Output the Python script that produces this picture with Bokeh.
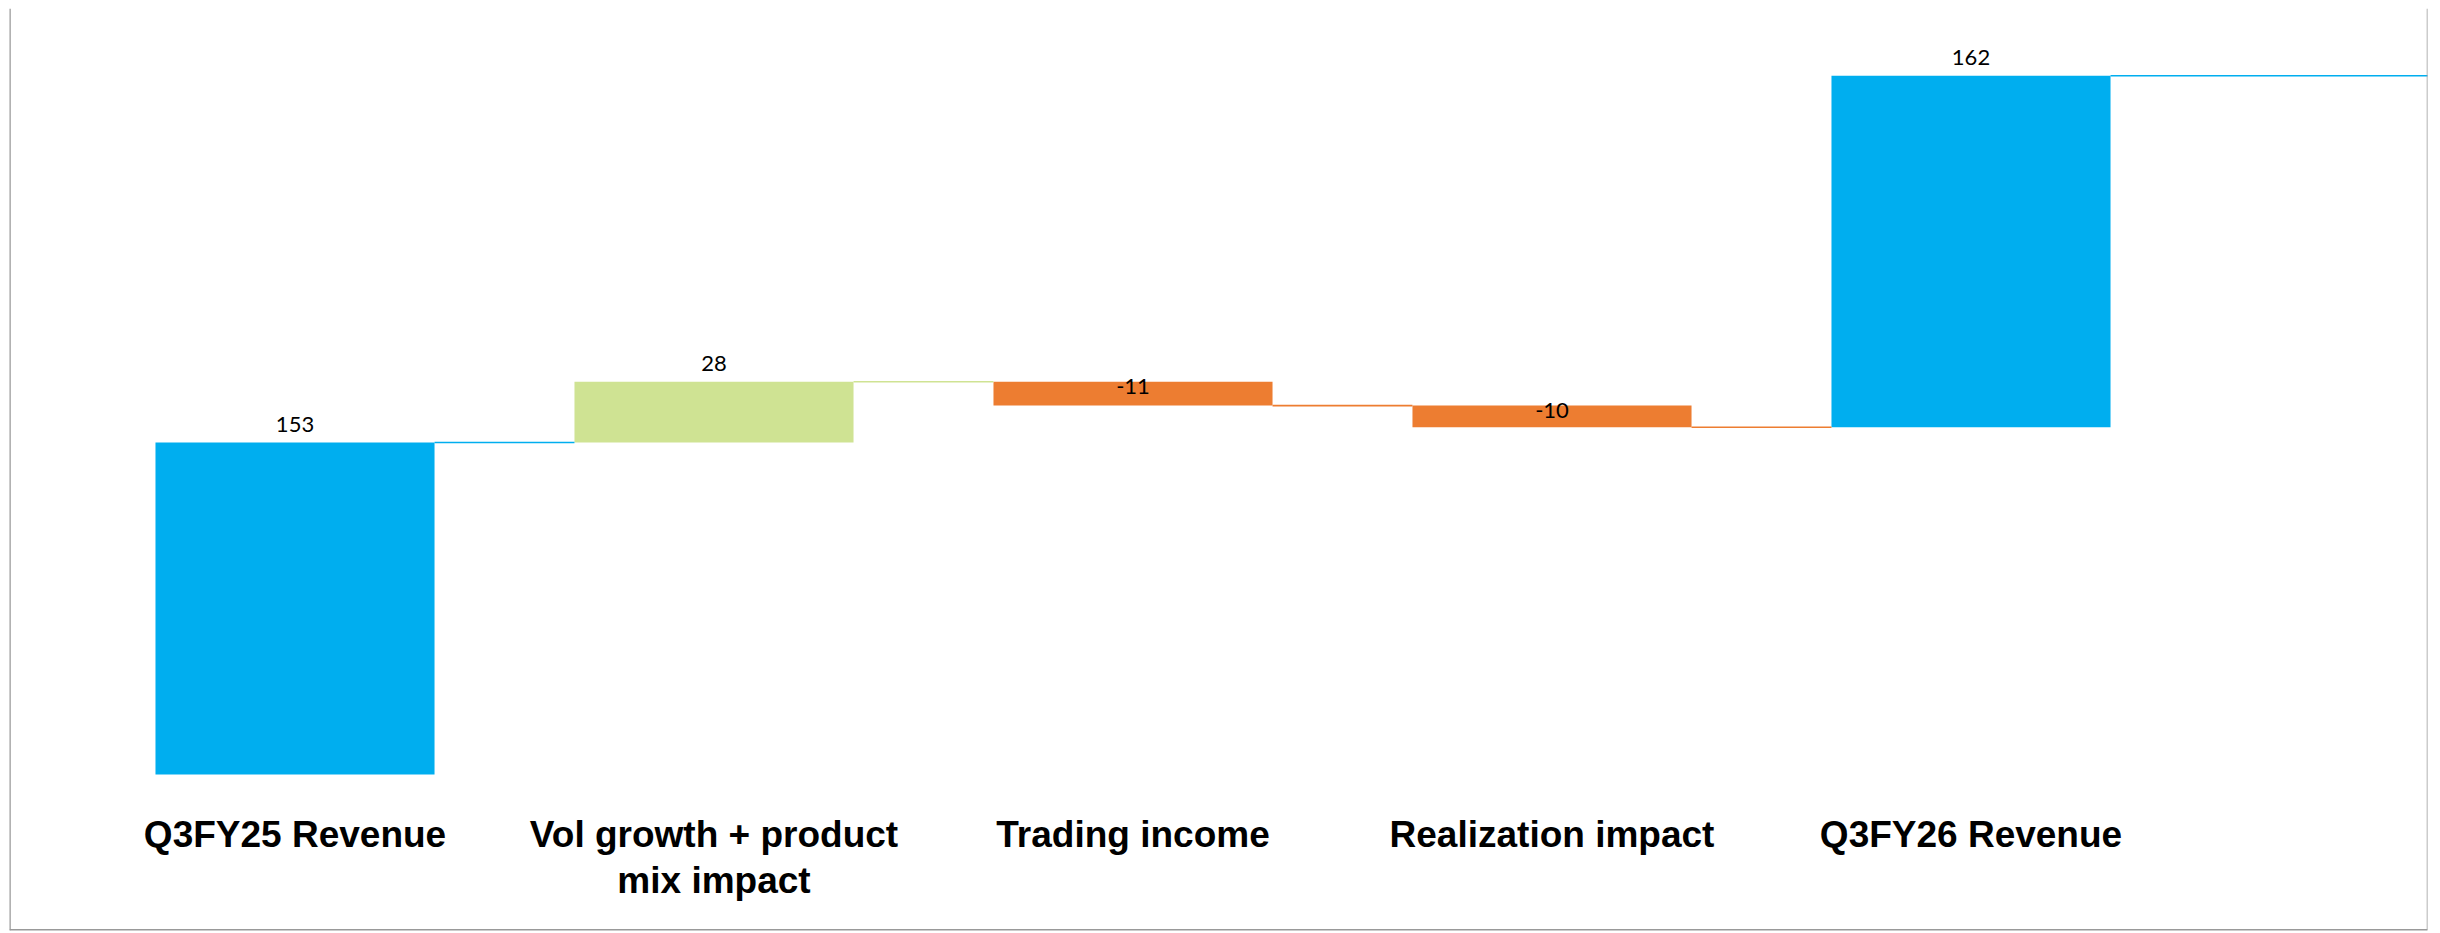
from bokeh.plotting import figure
from bokeh.models import ColumnDataSource, Range1d, Span
from bokeh.core.properties import value
from bokeh.embed import file_html
from bokeh.resources import INLINE

# ---- data ----
categories = ["Q3FY25 Revenue", "Vol growth + product\nmix impact", "Trading income",
              "Realization impact", "Q3FY26 Revenue"]
values = [153, 28, -11, -10, 162]
labels = ["153", "28", "-11", "-10", "162"]
colors = ["#00AEEF", "#CFE393", "#ED7D31", "#ED7D31", "#00AEEF"]

# running levels (waterfall as drawn in the source)
bottoms, tops = [], []
level = 0
for v in values:
    bottoms.append(level)
    tops.append(level + v)
    level += v

xs = list(range(len(categories)))
BAR_W = 0.666
X0, X1 = -0.6814, 5.0895
Y0, Y1 = -71.9, 353.0

p = figure(width=2432, height=931, output_backend="svg", toolbar_location=None,
           x_range=Range1d(X0, X1), y_range=Range1d(Y0, Y1),
           x_axis_type=None, y_axis_type=None,
           min_border_left=9, min_border_right=5, min_border_top=8, min_border_bottom=1)
p.grid.visible = False
p.outline_line_color = None
p.background_fill_color = "white"
p.border_fill_color = "white"

bars = ColumnDataSource(dict(x=xs, bottom=bottoms, top=tops, color=colors))
p.vbar(x="x", bottom="bottom", top="top", width=BAR_W, fill_color="color",
       line_color=None, source=bars)

# connector lines
cx0, cx1, cy, cc = [], [], [], []
for i in range(len(xs)):
    cx0.append(xs[i] + BAR_W / 2)
    cx1.append(xs[i + 1] - BAR_W / 2 if i + 1 < len(xs) else X1 + 1)
    cy.append(tops[i])
    cc.append(colors[i])
p.segment(x0=cx0, y0=cy, x1=cx1, y1=cy, line_color=cc, line_width=1.6)

# value labels
ly, loff = [], []
for v, b, t in zip(values, bottoms, tops):
    if v >= 0:
        ly.append(t); loff.append(-18)
    else:
        ly.append(b); loff.append(5)
p.text(x=xs, y=ly, text=labels, y_offset=loff, text_align="center", text_baseline="middle",
       text_font=value("Lato"), text_font_size="22px", text_color="#000000")

# category labels (split multi-line)
tx, ty, tt, toff = [], [], [], []
for x, c in zip(xs, categories):
    for j, line in enumerate(c.split("\n")):
        tx.append(x); ty.append(-27.6); tt.append(line); toff.append(j * 46)
p.text(x=tx, y=ty, text=tt, y_offset=toff, text_align="center", text_baseline="middle",
       text_font=value("Liberation Sans"), text_font_style="bold", text_font_size="37px",
       text_color="#000000")

# chart border (left, right, bottom)
p.add_layout(Span(location=X0, dimension="height", line_color="#999999", line_width=2.5))
p.add_layout(Span(location=X1, dimension="height", line_color="#999999", line_width=1.5))
p.add_layout(Span(location=Y0, dimension="width", line_color="#999999", line_width=3))

open("out.html", "w").write(file_html(p, INLINE))
